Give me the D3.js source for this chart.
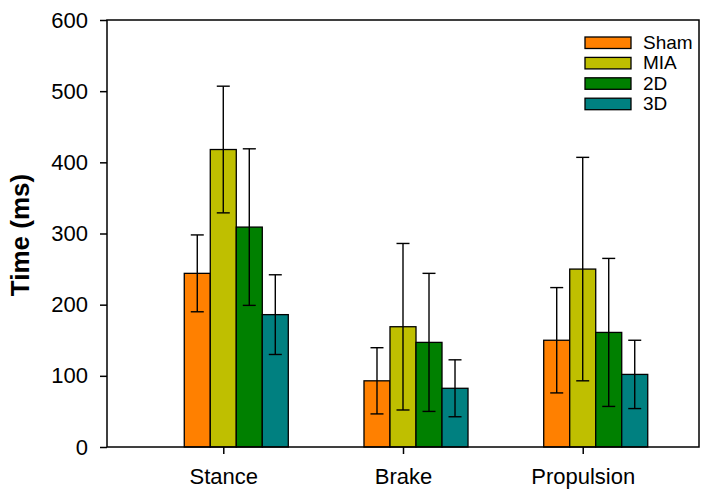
<!DOCTYPE html>
<html>
<head>
<meta charset="utf-8">
<script src="https://cdn.jsdelivr.net/npm/d3@7"></script>
<style>
  html, body { margin: 0; padding: 0; background: #fff; }
  svg { display: block; font-family: "Liberation Sans", Arial, sans-serif; }
</style>
</head>
<body>
<svg id="chart" width="707" height="498"></svg>
<script>
const categories = ["Stance", "Brake", "Propulsion"];
const seriesNames = ["Sham", "MIA", "2D", "3D"];
const seriesColors = ["#FF8000", "#BFBF00", "#008000", "#008080"];
const shamMean = [244, 93, 150];
const shamErr  = [54, 46.5, 74];
const miaMean  = [418, 169, 250];
const miaErr   = [89, 117, 157];
const d2Mean   = [309, 147, 161];
const d2Err    = [110, 97, 104];
const d3Mean   = [186, 82.5, 102];
const d3Err    = [56, 40, 48];
const yTicks = [0, 100, 200, 300, 400, 500, 600];

const means = [shamMean, miaMean, d2Mean, d3Mean];
const errs = [shamErr, miaErr, d2Err, d3Err];

const svg = d3.select("#chart");
const L = 107, R = 699, T = 20, B = 447;

const x = d3.scalePoint().domain(categories).range([L, R]).padding(0.647);
const y = d3.scaleLinear().domain([0, 600]).range([B, T]);
const bw = x.step() * 0.1447;

const data = [];
categories.forEach((c, ci) => {
  seriesNames.forEach((s, si) => {
    data.push({ c, s, si, v: means[si][ci], e: errs[si][ci] });
  });
});
const barX = d => x(d.c) - 1.5 * bw + d.si * bw;

// bars
svg.append("g").selectAll("rect").data(data).join("rect")
  .attr("x", barX)
  .attr("y", d => y(d.v))
  .attr("width", bw)
  .attr("height", d => y(0) - y(d.v))
  .attr("fill", d => seriesColors[d.si])
  .attr("stroke", "#000")
  .attr("stroke-width", 1.3);

// error bars
const eg = svg.append("g").attr("stroke", "#000").attr("stroke-width", 1.4);
const capW = 6.5;
data.forEach(d => {
  const cx = barX(d) + bw / 2;
  eg.append("line").attr("x1", cx).attr("x2", cx).attr("y1", y(d.v + d.e)).attr("y2", y(d.v - d.e));
  eg.append("line").attr("x1", cx - capW).attr("x2", cx + capW).attr("y1", y(d.v + d.e)).attr("y2", y(d.v + d.e));
  eg.append("line").attr("x1", cx - capW).attr("x2", cx + capW).attr("y1", y(d.v - d.e)).attr("y2", y(d.v - d.e));
});

// frame
svg.append("rect").attr("x", L).attr("y", T).attr("width", R - L).attr("height", B - T)
  .attr("fill", "none").attr("stroke", "#000").attr("stroke-width", 1.5);

// y axis
const yAxis = svg.append("g").attr("transform", `translate(${L},0)`)
  .call(d3.axisLeft(y).tickValues(yTicks).tickSize(7).tickPadding(12).tickFormat(d3.format("d")));
yAxis.select(".domain").remove();
yAxis.selectAll("line").attr("stroke", "#000").attr("stroke-width", 1.5);
yAxis.selectAll("text").attr("font-size", 22).attr("fill", "#000")
  .attr("font-family", "'Liberation Sans', Arial, sans-serif");

// x axis
const xAxis = svg.append("g").attr("transform", `translate(0,${B})`)
  .call(d3.axisBottom(x).tickSize(7).tickPadding(14));
xAxis.select(".domain").remove();
xAxis.selectAll("line").attr("stroke", "#000").attr("stroke-width", 1.5);
xAxis.selectAll("text").attr("font-size", 22).attr("fill", "#000")
  .attr("font-family", "'Liberation Sans', Arial, sans-serif");

// y title
svg.append("text")
  .attr("transform", `translate(29,235) rotate(-90)`)
  .attr("text-anchor", "middle")
  .attr("font-size", 26).attr("font-weight", "bold")
  .text("Time (ms)");

// legend
const lg = svg.append("g");
seriesNames.forEach((s, i) => {
  const yy = 37 + i * 20.4;
  lg.append("rect").attr("x", 585).attr("y", yy).attr("width", 46).attr("height", 11.5)
    .attr("fill", seriesColors[i]).attr("stroke", "#000").attr("stroke-width", 1.3);
  lg.append("text").attr("x", 643).attr("y", yy + 12).attr("font-size", 19).text(s);
});
</script>
</body>
</html>
